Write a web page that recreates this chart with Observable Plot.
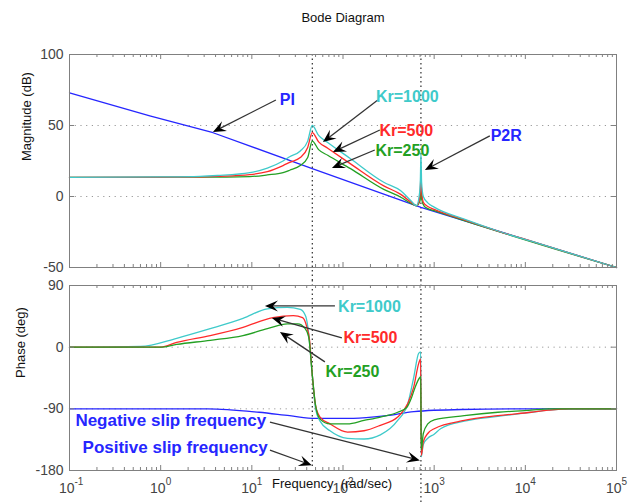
<!DOCTYPE html>
<html><head><meta charset="utf-8">
<script src="https://cdn.jsdelivr.net/npm/d3@7"></script>
<script src="https://cdn.jsdelivr.net/npm/@observablehq/plot@0.6"></script>
<style>
html,body{margin:0;padding:0;background:#fff;}
#chart{width:638px;height:504px;font-family:"Liberation Sans",Arial,Helvetica,sans-serif;}
#chart svg{display:block;}
</style></head><body><div id="chart"></div>
<script>
// ---------- data ----------
const magTicks = [-50, 0, 50, 100];
const phaseTicks = [-180, -90, 0, 90];
const magGrid = [0, 50];
const phaseGrid = [-90, 0];
const decades = [0.1, 1, 10, 100, 1000, 10000, 100000];
const decadeExp = ["-1", "0", "1", "2", "3", "4", "5"];
const slipFreq = [46, 716];

// Magnitude (dB)
const piMagFreq = [0.1, 0.76, 3.76, 46, 716, 100000];
const piMag     = [73, 56.8, 44.9, 19.6, -7.6, -50];
const kr1000MagFreq = [0.1, 1, 2.7, 4.2, 9.5, 14.8, 22, 26, 34, 41, 46, 54, 68, 121, 280, 430, 556, 640, 690, 706, 716, 728, 760, 851, 1000, 2140, 5000, 11600, 100000];
const kr1000Mag     = [13.5, 13.8, 14.2, 14.8, 16.8, 20, 25, 28, 32, 39, 50, 43, 38, 26.6, 10, 4, -3, -6.5, 2, 12, 31, 10, 0, -4.5, -7.5, -16, -24.3, -31.5, -50];
const kr500MagFreq = [0.1, 1, 2.7, 4.2, 9.5, 14.8, 22, 26, 34, 41, 46, 54, 68, 121, 280, 430, 556, 640, 690, 708, 716, 725, 760, 851, 1000, 2140, 5000, 11600, 100000];
const kr500Mag     = [13.5, 13.6, 13.8, 14.2, 15.4, 17.5, 21.8, 24, 27.4, 34.5, 45, 38.5, 34, 23, 7.5, 1.5, -4, -6.5, -2, 8, 16, 6, -4, -7, -9, -16.5, -24.3, -31.5, -50];
const kr250MagFreq = [0.1, 2.7, 9.5, 14.8, 22, 26, 34, 41, 46, 54, 68, 121, 280, 430, 556, 640, 700, 716, 730, 780, 851, 1000, 2140, 100000];
const kr250Mag     = [13.5, 13.6, 14, 15.2, 16.8, 18.5, 21.8, 27.4, 39, 33, 29, 19.6, 5, -0.5, -4.8, -6.5, -3, 9, -2, -7, -8.5, -10, -17, -50];

// Phase (deg)
const piPhFreq = [0.1, 3.3, 12, 26, 50, 130, 300, 600, 2000, 10000, 100000];
const piPh     = [-90, -90, -95, -100, -104, -104, -100, -94, -91, -90, -90];
const kr1000PhFreq = [0.1, 0.6, 1.5, 3.5, 8, 14.8, 24.5, 34, 39, 42, 46, 50, 56, 72, 112, 170, 257, 398, 515, 597, 676, 712, 722, 760, 851, 1000, 1175, 2140, 5000, 11600, 17800, 30000, 100000];
const kr1000Ph     = [0, 1, 13, 27, 42, 56, 58, 55, 45, 20, -40, -90, -108, -122, -133, -134, -128, -107, -82, -44, -9, -7, -160, -142, -133, -127, -119, -108, -101, -95, -92, -90, -90];
const kr500PhFreq = [0.1, 1, 1.5, 3.5, 8, 17, 28.5, 36, 40, 43, 46, 50, 56, 72, 112, 170, 257, 398, 515, 597, 676, 710, 722, 760, 851, 1000, 2140, 5000, 11600, 17800, 30000, 100000];
const kr500Ph     = [0, 0, 7, 17, 29, 43, 46, 43, 30, 10, -40, -85, -102, -112, -124, -122, -114, -102, -82, -58, -24, -17, -158, -138, -126, -119, -107, -100, -95, -92, -90, -90];
const kr250PhFreq = [0.1, 1, 1.5, 3.5, 8, 14.8, 24.5, 32, 38, 42, 46, 50, 56, 72, 112, 170, 257, 398, 500, 560, 620, 690, 712, 722, 760, 851, 1000, 2140, 5000, 11600, 17800, 100000];
const kr250Ph     = [0, 0, 4, 10, 17, 27, 34, 34, 28, 15, -40, -85, -105, -112, -112, -107, -102, -95, -88, -75, -58, -45, -43, -150, -126, -112, -106, -100, -95, -92, -90, -90];

// Annotations (data coordinates)
const magLabels      = ["PI", "Kr=1000", "Kr=500", "Kr=250", "P2R"];
const magLabelSeries = ["PI", "Kr1000", "Kr500", "Kr250", "PI"];
const magLabelFreq   = [24.5, 508, 495, 448, 6170];
const magLabelDb     = [68.3, 70.4, 46.5, 32.4, 43];
const magArrowFrom   = [[18.6, 67.6], [244, 67.6], [257, 46.5], [226, 32.4], [4130, 42.3]];
const magArrowTo     = [[3.79, 45.1], [61, 38], [78.5, 31], [76.6, 19.7], [801, 18.3]];

const phLabels      = ["Kr=1000", "Kr=500", "Kr=250"];
const phLabelSeries = ["Kr1000", "Kr500", "Kr250"];
const phLabelFreq   = [195, 200, 127];
const phLabelDeg    = [59.4, 14.2, -35.5];
const slipLabels    = ["Negative slip frequency", "Positive slip frequency"];
const slipLabelFreq = [0.116, 0.139];
const slipLabelDeg  = [-107, -146];
const phArrowFrom   = [[82.6, 59.4], [98.4, 12.7], [64.1, -22.2], [16, -110], [16, -151]];
const phArrowTo     = [[14.1, 59.4], [16.8, 41.9], [20.6, 21.5], [706, -166], [46.1, -173]];

// ---------- styling ----------
const colors = {PI: "#2626ff", Kr1000: "#3fcaca", Kr500: "#ff2a2a", Kr250: "#23a023"};
const FONT = '"Liberation Sans", Arial, Helvetica, sans-serif';
const W = 638, ML = 69, MR = 22;
const frameW = W - ML - MR;

const rows = (f, v) => f.map((d, i) => ({f: d, v: v[i]}));
const minorTicks = [];
for (let i = 0; i < decades.length - 1; i++) for (let k = 2; k <= 9; k++) minorTicks.push(decades[i] * k);

function arrows(from, to) {
  return (index, scales) => {
    const sx = scales.x, sy = scales.y;
    const g = d3.create("svg:g");
    from.forEach((a, i) => {
      const b = to[i];
      const x1 = sx(a[0]), y1 = sy(a[1]), x2 = sx(b[0]), y2 = sy(b[1]);
      const ang = Math.atan2(y2 - y1, x2 - x1), c = Math.cos(ang), s = Math.sin(ang);
      const L = 13, Hw = 5.5, N = 8;
      const bx = x2 - L * c, by = y2 - L * s;
      const nx = x2 - N * c, ny = y2 - N * s;
      g.append("line").attr("x1", x1).attr("y1", y1).attr("x2", nx).attr("y2", ny)
        .attr("stroke", "#333").attr("stroke-width", 1.3);
      g.append("path")
        .attr("d", `M${x2},${y2}L${bx - Hw * s},${by + Hw * c}L${nx},${ny}L${bx + Hw * s},${by - Hw * c}Z`)
        .attr("fill", "#000");
    });
    return g.node();
  };
}

function frameTicks(yTicks, frameH) {
  return [
    Plot.ruleX(minorTicks, {x: d => d, insetTop: frameH - 3, stroke: "#808080"}),
    Plot.ruleX(minorTicks, {x: d => d, insetBottom: frameH - 3, stroke: "#808080"}),
    Plot.ruleX(decades, {x: d => d, insetTop: frameH - 5, stroke: "#808080"}),
    Plot.ruleX(decades, {x: d => d, insetBottom: frameH - 5, stroke: "#808080"}),
    Plot.ruleY(yTicks, {y: d => d, insetRight: frameW - 5, stroke: "#808080"}),
    Plot.ruleY(yTicks, {y: d => d, insetLeft: frameW - 5, stroke: "#808080"}),
    Plot.frame({stroke: "#808080"}),
    Plot.text(yTicks, {y: d => d, frameAnchor: "left", text: d => String(d), textAnchor: "end", dx: -6, fontSize: 14, fill: "#444"})
  ];
}

const xScale = {type: "log", domain: [0.1, 100000]};
const lineOpts = (color) => ({x: "f", y: "v", stroke: color, strokeWidth: 1.3, curve: "monotone-x"});

// ---------- magnitude plot ----------
const topH = 280, topMT = 54, topMB = 13;
const magPlot = Plot.plot({
  width: W, height: topH, marginLeft: ML, marginRight: MR, marginTop: topMT, marginBottom: topMB,
  x: {...xScale, axis: null},
  y: {domain: [-50, 100], axis: null},
  style: {fontFamily: FONT, background: "#fff", overflow: "visible"},
  marks: [
    Plot.ruleY(magGrid, {y: d => d, stroke: "#999", strokeDasharray: "1.2,4.5"}),
    Plot.ruleX(slipFreq, {x: d => d, stroke: "#000", strokeDasharray: "1.5,3", insetBottom: -topMB}),
    Plot.line(rows(piMagFreq, piMag), {x: "f", y: "v", stroke: colors.PI, strokeWidth: 1.3}),
    Plot.line(rows(kr250MagFreq, kr250Mag), lineOpts(colors.Kr250)),
    Plot.line(rows(kr500MagFreq, kr500Mag), lineOpts(colors.Kr500)),
    Plot.line(rows(kr1000MagFreq, kr1000Mag), lineOpts(colors.Kr1000)),
    ...frameTicks(magTicks, topH - topMT - topMB),
    Plot.text(["Magnitude (dB)"], {frameAnchor: "left", dx: -43, rotate: -90, fontSize: 13, fill: "#111"}),
    Plot.text(["Bode Diagram"], {frameAnchor: "top", dy: -42, fontSize: 13, fill: "#111"}),
    arrows(magArrowFrom, magArrowTo),
    Plot.text(magLabels, {x: (d, i) => magLabelFreq[i], y: (d, i) => magLabelDb[i], text: d => d,
      fill: (d, i) => colors[magLabelSeries[i]], fontWeight: "bold", fontSize: 16})
  ]
});

// ---------- phase plot ----------
const botH = 224, botMT = 5, botMB = 34;
const phPlot = Plot.plot({
  width: W, height: botH, marginLeft: ML, marginRight: MR, marginTop: botMT, marginBottom: botMB,
  x: {...xScale, axis: null},
  y: {domain: [-180, 90], axis: null},
  style: {fontFamily: FONT, background: "#fff", overflow: "visible"},
  marks: [
    Plot.ruleY(phaseGrid, {y: d => d, stroke: "#999", strokeDasharray: "1.2,4.5"}),
    Plot.ruleX([slipFreq[0]], {x: d => d, stroke: "#000", strokeDasharray: "1.5,3", insetTop: -botMT, insetBottom: 3}),
    Plot.ruleX([slipFreq[1]], {x: d => d, stroke: "#000", strokeDasharray: "1.5,3", insetTop: -botMT, insetBottom: -botMB}),
    Plot.line(rows(piPhFreq, piPh), lineOpts(colors.PI)),
    Plot.line(rows(kr1000PhFreq, kr1000Ph), lineOpts(colors.Kr1000)),
    Plot.line(rows(kr500PhFreq, kr500Ph), lineOpts(colors.Kr500)),
    Plot.line(rows(kr250PhFreq, kr250Ph), lineOpts(colors.Kr250)),
    ...frameTicks(phaseTicks, botH - botMT - botMB),
    Plot.text(decades, {x: d => d, frameAnchor: "bottom", text: () => "10", textAnchor: "end", dx: 5, dy: 22, fontSize: 14, fill: "#444"}),
    Plot.text(decadeExp, {x: (d, i) => decades[i], frameAnchor: "bottom", text: d => d, textAnchor: "start", dx: 5, dy: 14, fontSize: 10, fill: "#444"}),
    Plot.text(["Frequency  (rad/sec)"], {frameAnchor: "bottom", dx: -11, dy: 17, fontSize: 13, fill: "#111"}),
    Plot.text(["Phase (deg)"], {frameAnchor: "left", dx: -49, dy: 0, rotate: -90, fontSize: 13, fill: "#111"}),
    arrows(phArrowFrom, phArrowTo),
    Plot.text(phLabels, {x: (d, i) => phLabelFreq[i], y: (d, i) => phLabelDeg[i], text: d => d,
      fill: (d, i) => colors[phLabelSeries[i]], fontWeight: "bold", fontSize: 16}),
    Plot.text(slipLabels, {x: (d, i) => slipLabelFreq[i], y: (d, i) => slipLabelDeg[i], text: d => d,
      fill: colors.PI, fontWeight: "bold", fontSize: 17, textAnchor: "start"})
  ]
});

const root = document.getElementById("chart");
root.append(magPlot, phPlot);
</script></body></html>
